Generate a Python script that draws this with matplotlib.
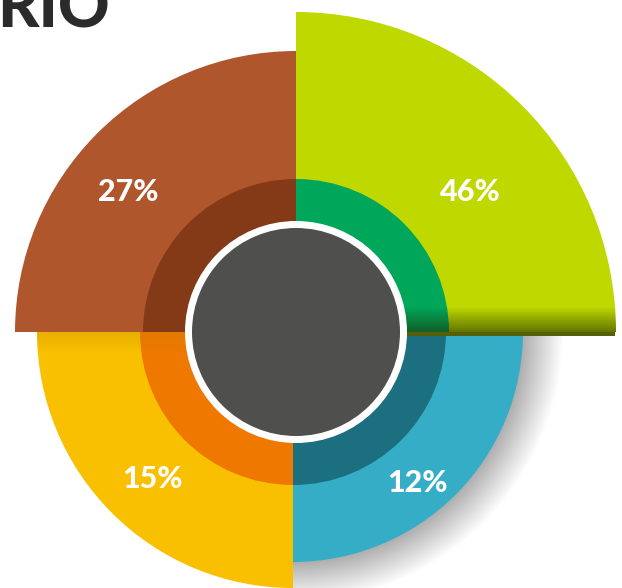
import numpy as np
import matplotlib.pyplot as plt
from matplotlib.patches import Wedge, Circle

# data
labels = ["46%", "27%", "15%", "12%"]
values = [46, 27, 15, 12]
outer_radius = [320, 281, 256, 230]
outer_colors = ["#BED800", "#B0562C", "#F8C000", "#36ADC7"]
inner_colors = ["#00A65A", "#843A17", "#EF7800", "#1B6F7F"]
label_pos = [(470, 192), (128, 192), (152, 479), (417, 483)]

W, H = 622, 588
cx, cy = 296, H - 332
inner_r = 153
hole_r = 111
grey_r = 104

fig = plt.figure(figsize=(W / 100, H / 100), dpi=100)
ax = fig.add_axes([0, 0, 1, 1])
ax.set_xlim(0, W)
ax.set_ylim(0, H)
ax.set_aspect("equal")
ax.axis("off")

# soft shadow under the blue quadrant
for k in range(40, 0, -1):
    ax.add_patch(Wedge((cx - 3, cy), outer_radius[3] + k, 270, 360,
                       color="#000000", alpha=0.006, lw=0, zorder=1))

for i, (val, r) in enumerate(zip(values, outer_radius)):
    t1 = 90 * i
    t2 = t1 + 90
    off = 0 if i < 2 else -3
    ax.add_patch(Wedge((cx + off, cy), r, t1, t2, color=outer_colors[i], lw=0, zorder=2))
    ax.add_patch(Wedge((cx + off, cy), inner_r, t1, t2, color=inner_colors[i], lw=0, zorder=3))

# darker band at the bottom of the green quadrant
clip = Wedge((cx, cy), outer_radius[0], 0, 90, transform=ax.transData)
for j in range(12):
    band = plt.Rectangle((cx, cy + j * 2), outer_radius[0], 2, color="#1E2A00",
                         alpha=0.55 * (1 - j / 12), lw=0, zorder=4)
    band.set_clip_path(clip)
    ax.add_patch(band)
ax.add_patch(plt.Rectangle((cx, cy - 4), outer_radius[0] - 1, 4, color="#56600A", lw=0, zorder=4))

# slight shade on top of the yellow quadrant
clip_y = Wedge((cx - 3, cy), outer_radius[2], 180, 270, transform=ax.transData)
for j in range(10):
    band = plt.Rectangle((cx - 3 - outer_radius[2], cy - (j + 1) * 2), outer_radius[2], 2,
                         color="#C08000", alpha=0.25 * (1 - j / 10), lw=0, zorder=4)
    band.set_clip_path(clip_y)
    ax.add_patch(band)

ax.add_patch(Circle((cx, cy), hole_r, color="white", lw=0, zorder=5))
ax.add_patch(Circle((cx, cy), grey_r, color="#4F4F4D", lw=0, zorder=6))

for lab, (x, y) in zip(labels, label_pos):
    ax.text(x, H - y, lab, color="white", fontsize=22, fontweight="black",
            family=["Lato", "DejaVu Sans"], ha="center", va="center", zorder=7)

ax.text(-3, H - 28, "RIO", color="#2B2B2B", fontsize=46, fontweight="black",
        family=["Lato", "DejaVu Sans"], ha="left", va="baseline", zorder=7)

fig.savefig("out.png", dpi=100)
